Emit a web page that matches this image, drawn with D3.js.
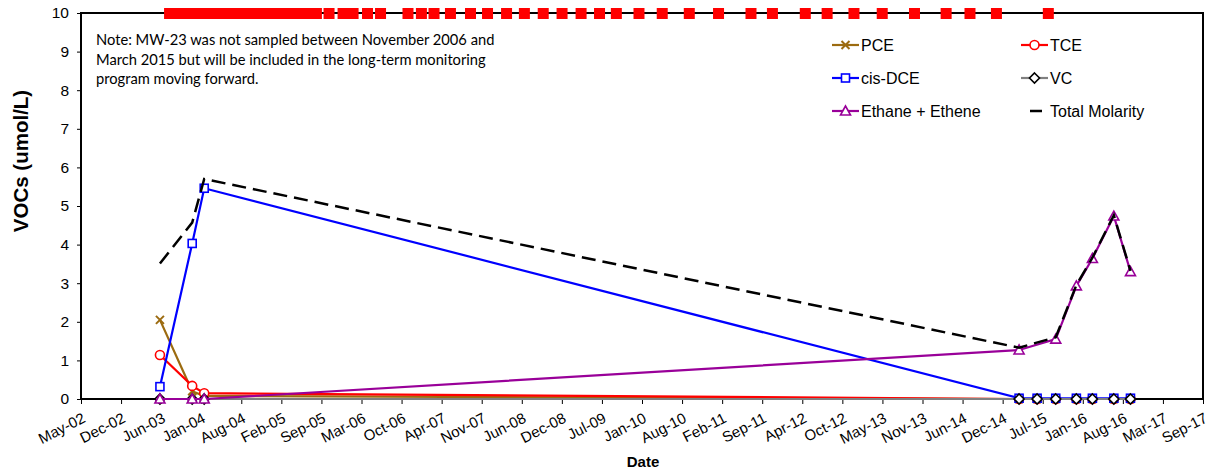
<!DOCTYPE html>
<html>
<head>
<meta charset="utf-8">
<script src="https://cdn.jsdelivr.net/npm/d3@7"></script>
<style>
  body { margin: 0; background: #fff; }
  svg { display: block; }
</style>
</head>
<body>
<svg id="chart" width="1209" height="474"></svg>
<script>
// ---- Data -----------------------------------------------------------
const sampleDates = ["2003-06-22", "2003-11-30", "2004-01-29",
  "2015-03-19", "2015-06-17", "2015-09-18", "2015-12-30",
  "2016-03-19", "2016-07-04", "2016-09-25"];

const pce     = [2.05, 0.20, 0.08, 0.00, 0.00, 0.00, 0.00, 0.00, 0.00, 0.00];
const tce     = [1.14, 0.34, 0.15, 0.00, 0.00, 0.00, 0.00, 0.00, 0.00, 0.00];
const cisDce  = [0.32, 4.03, 5.46, 0.02, 0.02, 0.02, 0.02, 0.02, 0.02, 0.02];
const vc      = [0.00, 0.00, 0.00, 0.00, 0.00, 0.00, 0.00, 0.00, 0.00, 0.00];
const ethenes = [0.00, 0.00, 0.00, 1.27, null, 1.55, 2.93, 3.64, 4.74, 3.30];
const totalMolarity = [3.51, 4.57, 5.70, 1.33, null, 1.60, 2.95, 3.66, 4.76, 3.32];

// Events plotted at the top of the axis (off-scale)
const topEventDates = ["2003-08-09", "2003-09-19", "2003-10-30", "2003-12-10",
  "2004-01-19", "2004-02-29", "2004-04-10", "2004-05-21", "2004-07-01",
  "2004-08-11", "2004-09-21", "2004-11-01", "2004-12-12", "2005-01-22",
  "2005-03-04", "2005-04-14", "2005-05-25", "2005-07-05", "2005-08-11",
  "2005-10-13", "2005-12-22", "2006-02-10", "2006-04-23", "2006-06-27",
  "2006-11-11", "2007-01-17", "2007-03-21", "2007-06-11", "2007-09-19",
  "2007-12-13", "2008-03-17", "2008-06-14", "2008-09-16", "2008-12-19",
  "2009-03-24", "2009-06-24", "2009-09-16", "2010-01-07", "2010-05-03",
  "2010-09-15", "2011-02-08", "2011-07-20", "2011-11-04", "2012-04-16",
  "2012-08-03", "2012-12-15", "2013-05-05", "2013-10-13", "2014-03-20",
  "2014-07-17", "2014-11-26", "2015-08-12"];

const xTickDates = ["2002-05-24", "2002-12-10", "2003-06-28", "2004-01-14",
  "2004-08-01", "2005-02-17", "2005-09-05", "2006-03-24", "2006-10-10",
  "2007-04-28", "2007-11-14", "2008-06-01", "2008-12-18", "2009-07-06",
  "2010-01-22", "2010-08-10", "2011-02-26", "2011-09-14", "2012-04-01",
  "2012-10-18", "2013-05-06", "2013-11-22", "2014-06-10", "2014-12-27",
  "2015-07-15", "2016-01-31", "2016-08-18", "2017-03-06", "2017-09-22"];
const xTickLabels = ["May-02", "Dec-02", "Jun-03", "Jan-04", "Aug-04", "Feb-05",
  "Sep-05", "Mar-06", "Oct-06", "Apr-07", "Nov-07", "Jun-08", "Dec-08",
  "Jul-09", "Jan-10", "Aug-10", "Feb-11", "Sep-11", "Apr-12", "Oct-12",
  "May-13", "Nov-13", "Jun-14", "Dec-14", "Jul-15", "Jan-16", "Aug-16",
  "Mar-17", "Sep-17"];
const yTicks = [0, 1, 2, 3, 4, 5, 6, 7, 8, 9, 10];

const noteLines = [
  "Note: MW-23 was not sampled between November 2006 and",
  "March 2015 but will be included in the long-term monitoring",
  "program moving forward."
];

// ---- Layout ---------------------------------------------------------
const svg = d3.select("#chart");
const W = 1209, H = 474;
const m = { left: 81, top: 13, right: 6, bottom: 75 };
const parse = d3.utcParse("%Y-%m-%d");
const dates = sampleDates.map(parse);

const x = d3.scaleUtc()
  .domain([parse(xTickDates[0]), parse(xTickDates[xTickDates.length - 1])])
  .range([m.left, W - m.right]);
const y = d3.scaleLinear().domain([0, 10]).range([H - m.bottom, m.top]);

const FONT = "'Liberation Sans', Arial, sans-serif";

// ---- Axes -----------------------------------------------------------
const xAxis = d3.axisBottom(x)
  .tickValues(xTickDates.map(parse))
  .tickFormat((d, i) => xTickLabels[i])
  .tickSize(5).tickSizeOuter(0);
const gx = svg.append("g")
  .attr("transform", `translate(0,${y(0)})`)
  .call(xAxis);
gx.select(".domain").remove();
gx.selectAll(".tick line").attr("stroke", "#000").attr("stroke-width", 1);
gx.selectAll(".tick text")
  .attr("font-family", FONT).attr("font-size", 15).attr("fill", "#000")
  .attr("text-anchor", "end")
  .attr("x", 0).attr("y", 0).attr("dy", "0.71em")
  .attr("transform", "translate(0,13) rotate(-27)");

const yAxis = d3.axisLeft(y).tickValues(yTicks).tickSize(4).tickSizeOuter(0);
const gy = svg.append("g").attr("transform", `translate(${m.left},0)`).call(yAxis);
gy.select(".domain").remove();
gy.selectAll(".tick line").attr("stroke", "#000").attr("stroke-width", 1);
gy.selectAll(".tick text")
  .attr("font-family", FONT).attr("font-size", 15.5).attr("fill", "#000")
  .attr("x", -12);

// plot frame
svg.append("rect")
  .attr("x", m.left).attr("y", m.top)
  .attr("width", W - m.right - m.left).attr("height", y(0) - m.top)
  .attr("fill", "none").attr("stroke", "#000").attr("stroke-width", 2);

// axis titles
svg.append("text")
  .attr("transform", "translate(28,161) rotate(-90)")
  .attr("text-anchor", "middle")
  .attr("font-family", FONT).attr("font-weight", "bold").attr("font-size", 20.5)
  .text("VOCs (umol/L)");
svg.append("text")
  .attr("x", 643).attr("y", 467)
  .attr("text-anchor", "middle")
  .attr("font-family", FONT).attr("font-weight", "bold").attr("font-size", 15)
  .text("Date");

// ---- Series ---------------------------------------------------------
const series = [
  { name: "PCE", values: pce, color: "#9C6B10", marker: "x" },
  { name: "TCE", values: tce, color: "#FF0000", marker: "circle" },
  { name: "cis-DCE", values: cisDce, color: "#0000FF", marker: "square" },
  { name: "VC", values: vc, color: "#808080", marker: "diamond" },
  { name: "Ethane + Ethene", values: ethenes, color: "#990099", marker: "triangle" },
  { name: "Total Molarity", values: totalMolarity, color: "#000000", marker: "none", dash: "14,7" }
];

function drawMarker(g, type, color, cx, cy) {
  if (type === "x") {
    const s = 4;
    g.append("path")
      .attr("d", `M${cx - s},${cy - s}L${cx + s},${cy + s}M${cx - s},${cy + s}L${cx + s},${cy - s}`)
      .attr("stroke", color).attr("stroke-width", 2).attr("fill", "none");
  } else if (type === "circle") {
    g.append("circle").attr("cx", cx).attr("cy", cy).attr("r", 4.5)
      .attr("fill", "#fff").attr("stroke", color).attr("stroke-width", 1.6);
  } else if (type === "square") {
    g.append("rect").attr("x", cx - 4).attr("y", cy - 4).attr("width", 8).attr("height", 8)
      .attr("fill", "#fff").attr("stroke", color).attr("stroke-width", 1.6);
  } else if (type === "diamond") {
    g.append("path")
      .attr("d", `M${cx},${cy - 5}L${cx + 5},${cy}L${cx},${cy + 5}L${cx - 5},${cy}Z`)
      .attr("fill", "#fff").attr("stroke", "#000").attr("stroke-width", 1.6);
  } else if (type === "triangle") {
    g.append("path")
      .attr("d", `M${cx},${cy - 5}L${cx + 5},${cy + 4}L${cx - 5},${cy + 4}Z`)
      .attr("fill", "#fff").attr("stroke", color).attr("stroke-width", 1.6);
  }
}

const line = d3.line()
  .defined(d => d.v !== null)
  .x(d => x(d.t)).y(d => y(d.v));

const plot = svg.append("g");
series.forEach(s => {
  const pts = dates.map((t, i) => ({ t, v: s.values[i] })).filter(d => d.v !== null);
  const g = plot.append("g");
  g.append("path")
    .datum(pts)
    .attr("d", line)
    .attr("fill", "none")
    .attr("stroke", s.color)
    .attr("stroke-width", s.dash ? 2.5 : 2.2)
    .attr("stroke-dasharray", s.dash || null);
  if (s.marker !== "none") {
    pts.forEach(d => drawMarker(g, s.marker, s.color, x(d.t), y(d.v)));
  }
});

// off-scale events along the top of the axis
svg.append("g").selectAll("rect")
  .data(topEventDates.map(parse))
  .join("rect")
  .attr("x", d => x(d) - 5.5).attr("y", y(10) - 5)
  .attr("width", 11).attr("height", 11)
  .attr("fill", "#FF0000");

// ---- Note -----------------------------------------------------------
const note = svg.append("text")
  .attr("font-family", "Lato, 'Open Sans', sans-serif")
  .attr("font-size", 14.7).attr("fill", "#000");
noteLines.forEach((t, i) => {
  note.append("tspan").attr("x", 96).attr("y", 45 + i * 19.5).text(t);
});

// ---- Legend ---------------------------------------------------------
const legendPos = [
  { col: 832, row: 45 }, { col: 1021, row: 45 },
  { col: 832, row: 78 }, { col: 1021, row: 78 },
  { col: 832, row: 111 }, { col: 1021, row: 111 }
];
const lg = svg.append("g");
series.forEach((s, i) => {
  const p = legendPos[i];
  const g = lg.append("g");
  if (s.marker === "none") {
    g.append("line").attr("x1", p.col + 9).attr("x2", p.col + 21)
      .attr("y1", p.row).attr("y2", p.row)
      .attr("stroke", s.color).attr("stroke-width", 2.5);
  } else {
    g.append("line").attr("x1", p.col).attr("x2", p.col + 27)
      .attr("y1", p.row).attr("y2", p.row)
      .attr("stroke", s.color).attr("stroke-width", 2.2);
    drawMarker(g, s.marker, s.color, p.col + 13.5, p.row);
  }
  g.append("text")
    .attr("x", p.col + 29).attr("y", p.row).attr("dy", "0.36em")
    .attr("font-family", FONT).attr("font-size", 16).attr("fill", "#000")
    .text(s.name);
});
</script>
</body>
</html>
